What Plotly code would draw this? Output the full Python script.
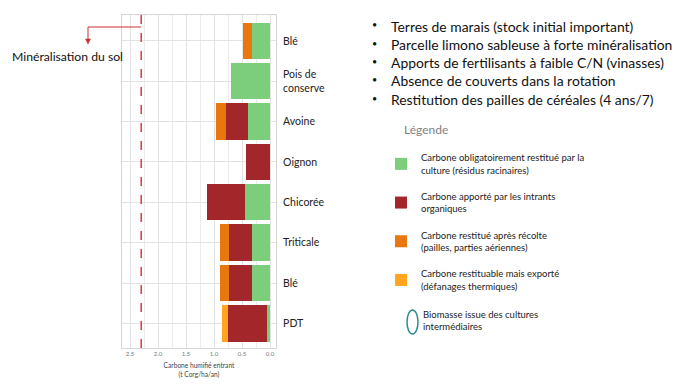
import plotly.graph_objects as go

# ---------------- data ----------------
categories = ["Blé", "Pois de<br>conserve", "Avoine", "Oignon", "Chicorée", "Triticale", "Blé", "PDT"]
c_racinaire = [0.315, 0.70, 0.39, 0.0, 0.45, 0.315, 0.315, 0.06]   # green
c_intrants = [0.0, 0.0, 0.40, 0.42, 0.68, 0.42, 0.42, 0.685]        # dark red
c_recolte = [0.16, 0.0, 0.18, 0.0, 0.0, 0.155, 0.15, 0.0]           # orange
c_exporte = [0.0, 0.0, 0.0, 0.0, 0.0, 0.0, 0.0, 0.11]               # yellow-orange
mineralisation = 2.3

series_names = [
    "Carbone obligatoirement restitué par la<br>culture (résidus racinaires)",
    "Carbone apporté par les intrants<br>organiques",
    "Carbone restitué après récolte<br>(pailles, parties aériennes)",
    "Carbone restituable mais exporté<br>(défanages thermiques)",
]
series_values = [c_racinaire, c_intrants, c_recolte, c_exporte]
series_colors = ["#7CCD7C", "#A3262A", "#E8770E", "#FFA51F"]

bullets = [
    "Terres de marais (stock initial important)",
    "Parcelle limono sableuse à forte minéralisation",
    "Apports de fertilisants à faible C/N (vinasses)",
    "Absence de couverts dans la rotation",
    "Restitution des pailles de céréales (4 ans/7)",
]

FONT = "Lato"
W, H = 698, 388
L, R, T, B = 122, 276, 15, 348   # plot area in pixels


def px(x):
    return (x - L) / (R - L)


def py(y):
    return (B - y) / (B - T)


ypos = list(range(len(categories)))

fig = go.Figure()
for i, (name, vals, col) in enumerate(zip(series_names, series_values, series_colors)):
    fig.add_trace(go.Bar(
        y=ypos, x=vals, orientation="h", name=name,
        marker=dict(color=col, line=dict(width=0)),
        width=0.9, legendgroup=f"g{i}",
    ))

fig.update_layout(
    width=W, height=H,
    margin=dict(l=L, r=W - R, t=T, b=H - B),
    barmode="stack",
    plot_bgcolor="white", paper_bgcolor="white",
    font=dict(family=FONT, color="#222"),
    showlegend=True,
    legend=dict(
        x=px(381), y=py(145), xanchor="left", yanchor="top",
        traceorder="grouped", tracegroupgap=11,
        font=dict(size=9.5, color="#222", family=FONT),
        bgcolor="rgba(0,0,0,0)",
    ),
    xaxis=dict(
        range=[(270 - L) / 56, (270 - R) / 56],
        dtick=0.5, tick0=0, tickformat=".1f",
        showgrid=True, gridcolor="#e3e3e3", gridwidth=1,
        minor=dict(dtick=0.25, showgrid=True, gridcolor="#ececec"),
        zeroline=False,
        showline=True, mirror=True, linecolor="#d6d6d6", linewidth=1,
        tickfont=dict(size=6, color="#777"),
        title=dict(text="Carbone humifié entrant<br>(t Corg/ha/an)",
                   font=dict(size=6.6, color="#444"), standoff=7),
    ),
    yaxis=dict(
        range=[7.61, -0.64],
        tickvals=ypos, ticktext=categories,
        side="right",
        showgrid=True, gridcolor="#e3e3e3",
        zeroline=False,
        showline=True, mirror=True, linecolor="#d6d6d6", linewidth=1,
        tickfont=dict(size=10.5, color="#222"),
        ticks="", ticklabelstandoff=4,
    ),
)

# mineralisation dashed line
fig.add_shape(type="line", xref="x", yref="paper", x0=mineralisation, x1=mineralisation,
              y0=0, y1=1, line=dict(color="#E0383A", width=1.5, dash="dash"))

# arrow from dashed line towards label
fig.add_shape(type="path", xref="paper", yref="paper",
              path=f"M {px(141)},{py(27)} L {px(88)},{py(27)} L {px(88)},{py(40)}",
              line=dict(color="#C8302E", width=1))
fig.add_shape(type="path", xref="paper", yref="paper",
              path=f"M {px(85.5)},{py(39)} L {px(90.5)},{py(39)} L {px(88)},{py(44)} Z",
              fillcolor="#C8302E", line=dict(color="#C8302E", width=0.5))

fig.add_annotation(xref="paper", yref="paper", x=px(10), y=py(56),
                   text="Minéralisation du sol", showarrow=False,
                   xanchor="left", yanchor="middle",
                   font=dict(size=12.2, color="#111", family=FONT))

# bullet list (one line per annotation)
for k, line in enumerate(bullets):
    yc = 25 + 18.3 * k
    fig.add_annotation(xref="paper", yref="paper", x=px(374), y=py(yc),
                       text="•", showarrow=False, xanchor="center", yanchor="middle",
                       font=dict(size=9, color="#111", family=FONT))
    fig.add_annotation(xref="paper", yref="paper", x=px(389), y=py(yc + 1),
                       text=line, showarrow=False, xanchor="left", yanchor="middle",
                       font=dict(size=13.9, color="#111", family=FONT))

# legend title
fig.add_annotation(xref="paper", yref="paper", x=px(402), y=py(129),
                   text="Légende", showarrow=False, xanchor="left", yanchor="middle",
                   font=dict(size=12, color="#7f7f7f", family=FONT))

# biomasse legend entry (ellipse)
fig.add_shape(type="circle", xref="paper", yref="paper",
              x0=px(407), x1=px(418), y0=py(310), y1=py(334),
              line=dict(color="#2E8B8B", width=1.5))
fig.add_annotation(xref="paper", yref="paper", x=px(421), y=py(320),
                   text="Biomasse issue des cultures<br>intermédiaires", showarrow=False,
                   xanchor="left", yanchor="middle", align="left",
                   font=dict(size=9.5, color="#222", family=FONT))

fig.write_html("out.html", post_script="document.body.style.margin='0';",
               config={"displayModeBar": False})
